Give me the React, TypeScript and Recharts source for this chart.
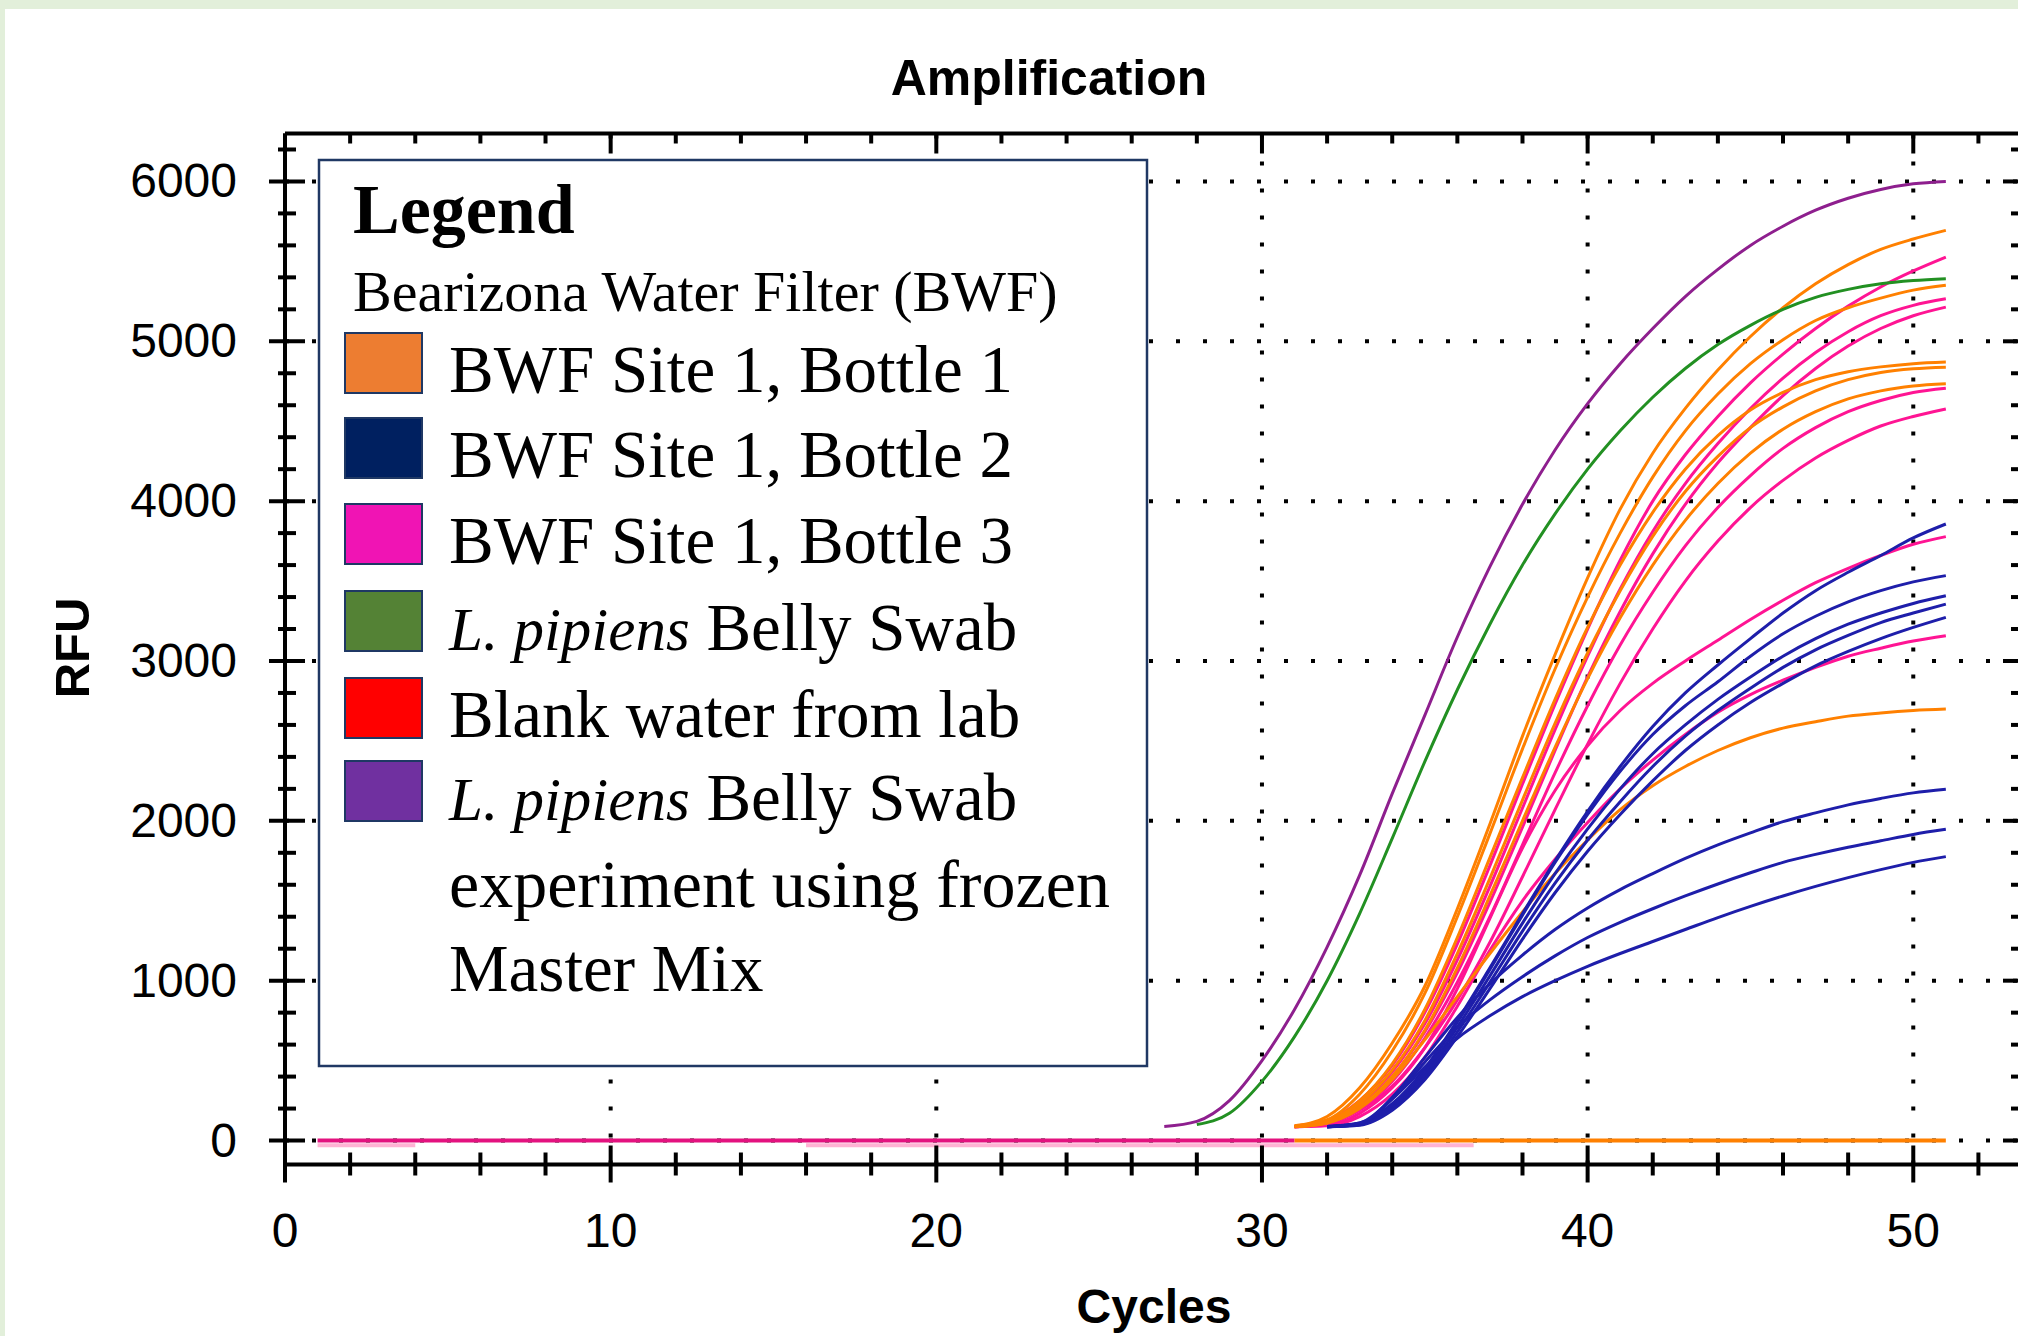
import { Line, LineChart, ReferenceLine, XAxis, YAxis } from 'recharts';

// axis ticks
const cycleTicks = [0, 2, 4, 6, 8, 10, 12, 14, 16, 18, 20, 22, 24, 26, 28, 30, 32, 34, 36, 38, 40, 42, 44, 46, 48, 50, 52];
const rfuTicks = [0, 200, 400, 600, 800, 1000, 1200, 1400, 1600, 1800, 2000, 2200, 2400, 2600, 2800, 3000, 3200, 3400, 3600, 3800, 4000, 4200, 4400, 4600, 4800, 5000, 5200, 5400, 5600, 5800, 6000, 6200];
const gridCycles = [10, 20, 30, 40, 50];
const gridRfu = [0, 1000, 2000, 3000, 4000, 5000, 6000];

// RFU per cycle, each curve starts at its own first cycle
const purpleStart = 27;
const purpleSwab = [88, 120, 250, 500, 820, 1210, 1660, 2170, 2660, 3150, 3590, 3980, 4320, 4610, 4860, 5080, 5280, 5450, 5600, 5720, 5820, 5895, 5950, 5985, 6000];
const greenStart = 28;
const greenSwab = [100, 170, 370, 650, 1000, 1420, 1890, 2370, 2820, 3230, 3600, 3920, 4200, 4440, 4650, 4830, 4980, 5100, 5200, 5275, 5325, 5360, 5380, 5392];

const bottle1Start = 31;
const bottle1 = [
  [92, 150, 330, 610, 965, 1450, 1980, 2530, 3040, 3520, 3950, 4300, 4580, 4820, 5030, 5210, 5360, 5480, 5575, 5640, 5694],
  [90, 130, 290, 560, 920, 1400, 1920, 2450, 2950, 3400, 3800, 4150, 4440, 4670, 4860, 5010, 5130, 5210, 5270, 5320, 5350],
  [88, 120, 250, 480, 820, 1270, 1770, 2270, 2760, 3210, 3600, 3930, 4200, 4410, 4570, 4680, 4760, 4810, 4840, 4860, 4870],
  [88, 115, 230, 440, 750, 1170, 1640, 2130, 2610, 3050, 3440, 3780, 4060, 4280, 4460, 4590, 4690, 4760, 4805, 4828, 4838],
  [86, 110, 210, 400, 690, 1080, 1530, 2000, 2460, 2890, 3270, 3600, 3880, 4110, 4300, 4450, 4560, 4640, 4690, 4720, 4734],
  [86, 110, 200, 380, 630, 900, 1170, 1430, 1670, 1880, 2070, 2220, 2340, 2440, 2520, 2580, 2620, 2655, 2675, 2690, 2699],
];

const bottle3Start = 31;
const bottle3 = [
  [90, 125, 250, 470, 800, 1230, 1720, 2230, 2730, 3200, 3630, 4000, 4290, 4530, 4740, 4920, 5080, 5220, 5340, 5440, 5527],
  [88, 118, 230, 430, 730, 1130, 1590, 2080, 2570, 3030, 3450, 3810, 4110, 4360, 4580, 4770, 4930, 5060, 5160, 5225, 5266],
  [87, 112, 215, 400, 680, 1050, 1490, 1960, 2440, 2900, 3310, 3670, 3980, 4240, 4460, 4660, 4830, 4970, 5080, 5160, 5214],
  [86, 108, 200, 370, 640, 990, 1400, 1850, 2300, 2720, 3100, 3430, 3720, 3960, 4160, 4330, 4460, 4560, 4630, 4680, 4707],
  [86, 105, 190, 340, 580, 880, 1240, 1650, 2070, 2480, 2860, 3200, 3500, 3750, 3960, 4130, 4270, 4380, 4470, 4530, 4577],
  [86, 95, 170, 330, 580, 950, 1390, 1830, 2190, 2470, 2690, 2860, 3000, 3130, 3260, 3380, 3490, 3580, 3660, 3730, 3778],
  [86, 92, 150, 290, 520, 840, 1190, 1500, 1760, 1990, 2200, 2380, 2540, 2680, 2790, 2880, 2960, 3030, 3080, 3125, 3158],
];

const bottle2Start = 32;
const bottle2 = [
  [88, 110, 230, 450, 750, 1080, 1420, 1750, 2060, 2340, 2590, 2800, 2975, 3140, 3300, 3440, 3555, 3660, 3770, 3857],
  [88, 105, 220, 440, 740, 1070, 1410, 1740, 2040, 2310, 2540, 2720, 2870, 3030, 3170, 3280, 3370, 3440, 3495, 3534],
  [87, 100, 210, 420, 710, 1030, 1360, 1670, 1950, 2200, 2420, 2600, 2760, 2900, 3030, 3140, 3230, 3300, 3360, 3408],
  [86, 98, 200, 400, 680, 990, 1310, 1610, 1880, 2120, 2340, 2530, 2690, 2830, 2960, 3070, 3160, 3240, 3300, 3356],
  [86, 96, 190, 380, 650, 950, 1260, 1550, 1810, 2040, 2250, 2440, 2600, 2740, 2860, 2970, 3060, 3140, 3210, 3273],
  [86, 105, 270, 520, 770, 980, 1160, 1320, 1455, 1570, 1670, 1765, 1850, 1925, 1995, 2050, 2100, 2140, 2175, 2198],
  [86, 105, 260, 490, 710, 880, 1025, 1155, 1270, 1365, 1450, 1530, 1605, 1675, 1740, 1790, 1835, 1875, 1915, 1947],
  [85, 110, 260, 460, 640, 780, 900, 1000, 1090, 1170, 1245, 1320, 1395, 1465, 1530, 1590, 1645, 1695, 1740, 1776],
];

// flat traces near zero
const flatMagenta = [{ cycle: 1, rfu: 0 }, { cycle: 31, rfu: 0 }];
const flatOrange = [{ cycle: 31, rfu: 0 }, { cycle: 51, rfu: 0 }];
const flatPinkA = [{ cycle: 1, rfu: -30 }, { cycle: 4, rfu: -30 }];
const flatPinkB = [{ cycle: 16, rfu: -30 }, { cycle: 36.5, rfu: -30 }];

const legendColors = ['#ED7D31', '#002060', '#F014B4', '#548235', '#FF0000', '#7030A0'];
const legendItalic = ['', '', '', 'L. pipiens', '', 'L. pipiens'];
const legendText = ['BWF Site 1, Bottle 1', 'BWF Site 1, Bottle 2', 'BWF Site 1, Bottle 3', ' Belly Swab', 'Blank water from lab', ' Belly Swab'];
const legendBaselines = [392, 477, 563, 650, 737, 820];

const ORANGE = '#FF8000';
const PINK = '#FF1493';
const BLUE = '#1E1EAA';
const GREEN = '#229022';
const PURPLE = '#8E1F8E';

const SANS = '"Liberation Sans", Arial, sans-serif';
const SERIF = '"Liberation Serif", "Times New Roman", serif';

const toPoints = (start: number, values: number[]) => values.map((rfu, i) => ({ cycle: start + i, rfu }));

const BottomTick = ({ x, y, payload }: any) => {
  const major = payload.value % 10 === 0;
  return (
    <g>
      <line x1={x} x2={x} y1={major ? y - 19 : y - 12} y2={major ? y + 18 : y + 11} stroke="#000" strokeWidth={4} />
      {major && (
        <text x={x} y={y + 82} textAnchor="middle" fontFamily={SANS} fontSize={48} fill="#000">
          {payload.value}
        </text>
      )}
    </g>
  );
};

const TopTick = ({ x, y, payload }: any) => {
  const major = payload.value % 10 === 0;
  return <line x1={x} x2={x} y1={y} y2={major ? y + 20 : y + 10} stroke="#000" strokeWidth={4} />;
};

const LeftTick = ({ x, y, payload }: any) => {
  const major = payload.value % 1000 === 0;
  return (
    <g>
      <line x1={major ? x - 16 : x - 7} x2={major ? x + 20 : x + 11} y1={y} y2={y} stroke="#000" strokeWidth={4} />
      {major && (
        <text x={x - 48} y={y + 16} textAnchor="end" fontFamily={SANS} fontSize={48} fill="#000">
          {payload.value}
        </text>
      )}
    </g>
  );
};

const RightTick = ({ x, y, payload }: any) => {
  const major = payload.value % 1000 === 0;
  return <line x1={major ? x - 21 : x - 13} x2={x} y1={y} y2={y} stroke="#000" strokeWidth={4} />;
};

const line = (key: string, data: { cycle: number; rfu: number }[], color: string, width = 3) => (
  <Line
    key={key}
    xAxisId="b"
    yAxisId="l"
    data={data}
    dataKey="rfu"
    type="monotone"
    stroke={color}
    strokeWidth={width}
    dot={false}
    activeDot={false}
    isAnimationActive={false}
  />
);

export default function App() {
  return (
    <div style={{ position: 'fixed', left: 0, top: 0, width: 2018, height: 1336, overflow: 'hidden', background: '#fff' }}>
      <div style={{ position: 'absolute', left: 0, top: 0 }}>
        <LineChart width={2060} height={1336} margin={{ top: 103.5, right: 16, bottom: 71.5, left: 5 }}>
          <XAxis
            xAxisId="b"
            dataKey="cycle"
            type="number"
            domain={[0, 53.4]}
            allowDataOverflow
            ticks={cycleTicks}
            interval={0}
            height={100}
            tickSize={0}
            tickMargin={0}
            tickLine={false}
            axisLine={{ stroke: '#000', strokeWidth: 4 }}
            tick={<BottomTick />}
          />
          <XAxis
            xAxisId="t"
            orientation="top"
            dataKey="cycle"
            type="number"
            domain={[0, 53.4]}
            allowDataOverflow
            ticks={cycleTicks}
            interval={0}
            height={30}
            tickSize={0}
            tickMargin={0}
            tickLine={false}
            axisLine={{ stroke: '#000', strokeWidth: 4 }}
            tick={<TopTick />}
          />
          <YAxis
            yAxisId="l"
            type="number"
            domain={[-150, 6300]}
            allowDataOverflow
            ticks={rfuTicks}
            interval={0}
            width={280}
            tickSize={0}
            tickMargin={0}
            tickLine={false}
            axisLine={{ stroke: '#000', strokeWidth: 4 }}
            tick={<LeftTick />}
          />
          <YAxis
            yAxisId="r"
            orientation="right"
            type="number"
            domain={[-150, 6300]}
            allowDataOverflow
            ticks={rfuTicks}
            interval={0}
            width={20}
            tickSize={0}
            tickMargin={0}
            tickLine={false}
            axisLine={{ stroke: '#000', strokeWidth: 4 }}
            tick={<RightTick />}
          />

          {gridCycles.map((c) => (
            <ReferenceLine key={`gx${c}`} xAxisId="b" yAxisId="l" x={c} stroke="#000" strokeWidth={4} strokeDasharray="4 23" />
          ))}
          {gridRfu.map((v) => (
            <ReferenceLine key={`gy${v}`} xAxisId="b" yAxisId="l" y={v} stroke="#000" strokeWidth={4} strokeDasharray="4 23" />
          ))}

          {line('flatPinkA', flatPinkA, '#FFB3D4', 4)}
          {line('flatPinkB', flatPinkB, '#FFB3D4', 4)}
          {line('flatMagenta', flatMagenta, '#E3127F', 4)}
          {line('flatOrange', flatOrange, ORANGE, 4)}

          {bottle3.map((v, i) => line(`b3_${i}`, toPoints(bottle3Start, v), PINK))}
          {bottle1.map((v, i) => line(`b1_${i}`, toPoints(bottle1Start, v), ORANGE))}
          {bottle2.map((v, i) => line(`b2_${i}`, toPoints(bottle2Start, v), BLUE))}
          {line('green', toPoints(greenStart, greenSwab), GREEN)}
          {line('purple', toPoints(purpleStart, purpleSwab), PURPLE)}
        </LineChart>
      </div>

      <svg width={2018} height={1336} style={{ position: 'absolute', left: 0, top: 0, pointerEvents: 'none' }}>
        <text x={1049} y={95} textAnchor="middle" fontFamily={SANS} fontWeight="bold" fontSize={50} fill="#000">
          Amplification
        </text>
        <text x={1154} y={1323} textAnchor="middle" fontFamily={SANS} fontWeight="bold" fontSize={48} fill="#000">
          Cycles
        </text>
        <text
          x={0}
          y={0}
          transform="translate(89 648) rotate(-90)"
          textAnchor="middle"
          fontFamily={SANS}
          fontWeight="bold"
          fontSize={49}
          fill="#000"
        >
          RFU
        </text>

        <rect x={319} y={160} width={828} height={906} fill="#fff" stroke="#203864" strokeWidth={2.5} />
        <text x={353} y={233} fontFamily={SERIF} fontWeight="bold" fontSize={70} fill="#000">
          Legend
        </text>
        <text x={353} y={311} fontFamily={SERIF} fontSize={58} fill="#000">
          Bearizona Water Filter (BWF)
        </text>
        {legendText.map((t, i) => (
          <g key={t + i}>
            <rect x={345} y={legendBaselines[i] - 59} width={77} height={60} fill={legendColors[i]} stroke="#1F3864" strokeWidth={2} />
            <text x={449} y={legendBaselines[i]} fontFamily={SERIF} fontSize={67} fill="#000" style={{ whiteSpace: 'pre' }}>
              {legendItalic[i] && (
                <tspan fontStyle="italic" fontSize={61}>
                  {legendItalic[i]}
                </tspan>
              )}
              <tspan>{t}</tspan>
            </text>
          </g>
        ))}
        <text x={449} y={907} fontFamily={SERIF} fontSize={68} fill="#000">
          experiment using frozen
        </text>
        <text x={449} y={991} fontFamily={SERIF} fontSize={67} fill="#000">
          Master Mix
        </text>
      </svg>

      <div style={{ position: 'absolute', left: 0, top: 0, width: 2018, height: 9, background: '#E2EFDA' }} />
      <div style={{ position: 'absolute', left: 0, top: 0, width: 5, height: 1336, background: '#E2EFDA' }} />
    </div>
  );
}
